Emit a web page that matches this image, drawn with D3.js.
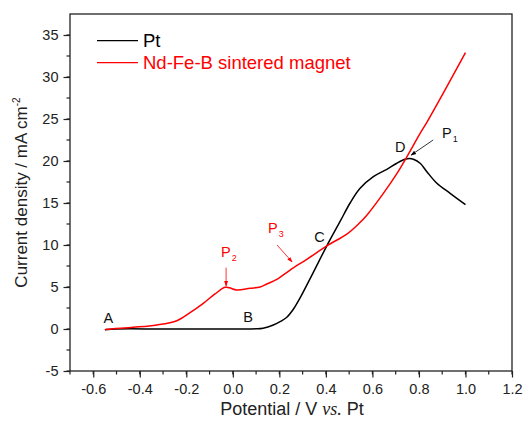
<!DOCTYPE html>
<html><head><meta charset="utf-8">
<script src="https://cdn.jsdelivr.net/npm/d3@7"></script>
<style>body{margin:0;background:#fff}svg{display:block;font-family:"Liberation Sans",Arial,sans-serif}</style>
</head><body><svg id="c" width="524" height="421"></svg>
<script>
const ptX = [-0.55,-0.5,-0.3,0.0,0.1,0.13,0.174,0.205,0.232,0.26,0.289,0.346,0.404,0.461,0.504,0.547,0.604,0.662,0.705,0.74,0.76,0.776,0.805,0.834,0.877,0.934,1.0];
const ptY = [-0.1,0.0,0.0,0.0,0.02,0.1,0.48,0.9,1.4,2.35,3.7,6.75,9.9,12.8,15.0,16.75,18.13,19.01,19.73,20.2,20.3,20.2,19.73,18.73,17.35,16.15,14.8];
const ndX = [-0.55,-0.542,-0.428,-0.327,-0.241,-0.184,-0.127,-0.077,-0.034,-0.015,0.017,0.074,0.117,0.146,0.189,0.246,0.318,0.404,0.49,0.54,0.576,0.647,0.705,0.748,0.805,0.834,0.92,1.0];
const ndY = [-0.1,-0.04,0.2,0.48,0.99,1.95,3.06,4.17,4.96,4.9,4.64,4.85,5.0,5.36,5.9,7.02,8.3,9.9,11.3,12.5,13.55,16.15,18.5,20.5,23.3,24.6,28.85,32.9];
const xTicks = [-0.6,-0.4,-0.2,0.0,0.2,0.4,0.6,0.8,1.0,1.2];
const yTicks = [-5,0,5,10,15,20,25,30,35];
const seriesNames = ["Pt","Nd-Fe-B sintered magnet"];
const seriesColors = ["#000","#ff0000"];
const pointLabels = [{t:"A",x:-0.535,y:0.7},{t:"B",x:0.066,y:0.83},{t:"C",x:0.372,y:10.4},{t:"D",x:0.72,y:21.1}];

const svg = d3.select("#c");
const L=70,R=512,T=14,B=371;
const x = d3.scaleLinear().domain([-0.7,1.2]).range([L,R]);
const y = d3.scaleLinear().domain([-5,37.5]).range([B,T]);

svg.append("defs").html(`<marker id="ak" viewBox="0 0 10 10" refX="9" refY="5" markerWidth="7" markerHeight="7" orient="auto"><path d="M0,1.5L10,5L0,8.5z" fill="#000"/></marker>
<marker id="ar" viewBox="0 0 10 10" refX="9" refY="5" markerWidth="7" markerHeight="7" orient="auto"><path d="M0,1.5L10,5L0,8.5z" fill="#f00"/></marker>`);

const xMinor = d3.range(-0.7,1.2001,0.1).map(v=>+v.toFixed(2));
const yMinor = d3.range(-5,37.5,2.5);
svg.append("g").selectAll("line").data(xMinor).join("line")
 .attr("x1",d=>x(d)).attr("x2",d=>x(d)).attr("y1",B).attr("y2",B+3.5).attr("stroke","#222").attr("stroke-width",1.2);
svg.append("g").selectAll("line").data(yMinor).join("line")
 .attr("y1",d=>y(d)).attr("y2",d=>y(d)).attr("x1",L).attr("x2",L-3.5).attr("stroke","#222").attr("stroke-width",1.2);

const xa = svg.append("g").attr("transform",`translate(0,${B})`)
 .call(d3.axisBottom(x).tickValues(xTicks).tickFormat(d=>d.toFixed(1)).tickSize(6.5).tickPadding(6));
const ya = svg.append("g").attr("transform",`translate(${L},0)`)
 .call(d3.axisLeft(y).tickValues(yTicks).tickFormat(d=>String(d)).tickSize(6.5).tickPadding(5));
[xa,ya].forEach(a=>{a.select(".domain").remove();a.selectAll("line").attr("stroke","#222").attr("stroke-width",1.2);
 a.selectAll("text").attr("font-size",14.5).attr("fill","#222").attr("font-family","Liberation Sans, Arial, sans-serif");});

svg.append("rect").attr("x",L).attr("y",T).attr("width",R-L).attr("height",B-T)
 .attr("fill","none").attr("stroke","#222").attr("stroke-width",1.3);

const line = d3.line().x(d=>x(d[0])).y(d=>y(d[1])).curve(d3.curveCatmullRom.alpha(0.5));
svg.append("path").datum(ptX.map((v,i)=>[v,ptY[i]])).attr("d",line).attr("fill","none").attr("stroke",seriesColors[0]).attr("stroke-width",1.5);
svg.append("path").datum(ndX.map((v,i)=>[v,ndY[i]])).attr("d",line).attr("fill","none").attr("stroke",seriesColors[1]).attr("stroke-width",1.5);

seriesNames.forEach((n,i)=>{
 const yy = 40.7+22*i;
 svg.append("line").attr("x1",97).attr("x2",138).attr("y1",yy).attr("y2",yy).attr("stroke",seriesColors[i]).attr("stroke-width",1.3);
 svg.append("text").attr("x",143).attr("y",yy+6.5).attr("font-size",18.5).attr("fill",seriesColors[i]).text(n);
});

svg.append("g").selectAll("text").data(pointLabels).join("text")
 .attr("x",d=>x(d.x)).attr("y",d=>y(d.y)).attr("text-anchor","middle").attr("font-size",14.5).attr("fill","#111").text(d=>d.t);

function pLabel(px,py,sub,color){
 const t = svg.append("text").attr("x",px).attr("y",py).attr("font-size",14.5).attr("fill",color);
 t.append("tspan").text("P");
 t.append("tspan").attr("font-size",9).attr("dy",4).attr("dx",1).text(sub);
}
pLabel(442, 138, "1", "#111");
pLabel(221, 257, "2", "#f00");
pLabel(268, 233, "3", "#f00");
svg.append("line").attr("x1",x(0.861)).attr("y1",y(22.5)).attr("x2",x(0.766)).attr("y2",y(20.7)).attr("stroke","#000").attr("stroke-width",0.8).attr("marker-end","url(#ak)");
svg.append("line").attr("x1",x(-0.029)).attr("y1",y(7.3)).attr("x2",x(-0.029)).attr("y2",y(5.1)).attr("stroke","#f00").attr("stroke-width",0.8).attr("marker-end","url(#ar)");
svg.append("line").attr("x1",x(0.19)).attr("y1",y(10.0)).attr("x2",x(0.255)).attr("y2",y(7.98)).attr("stroke","#f00").attr("stroke-width",0.8).attr("marker-end","url(#ar)");

svg.append("text").attr("transform",`translate(27,${(T+B)/2}) rotate(-90)`).attr("text-anchor","middle").attr("font-size",17).attr("fill","#222")
 .html('Current density / mA cm<tspan dy="-7" font-size="10">-2</tspan>');
const xt = svg.append("text").attr("x",292).attr("y",415).attr("text-anchor","middle").attr("font-size",18).attr("fill","#222");
xt.append("tspan").text("Potential / V ");
xt.append("tspan").attr("font-family","Liberation Serif, Times New Roman, serif").attr("font-style","italic").text("vs.");
xt.append("tspan").text(" Pt");
</script></body></html>
